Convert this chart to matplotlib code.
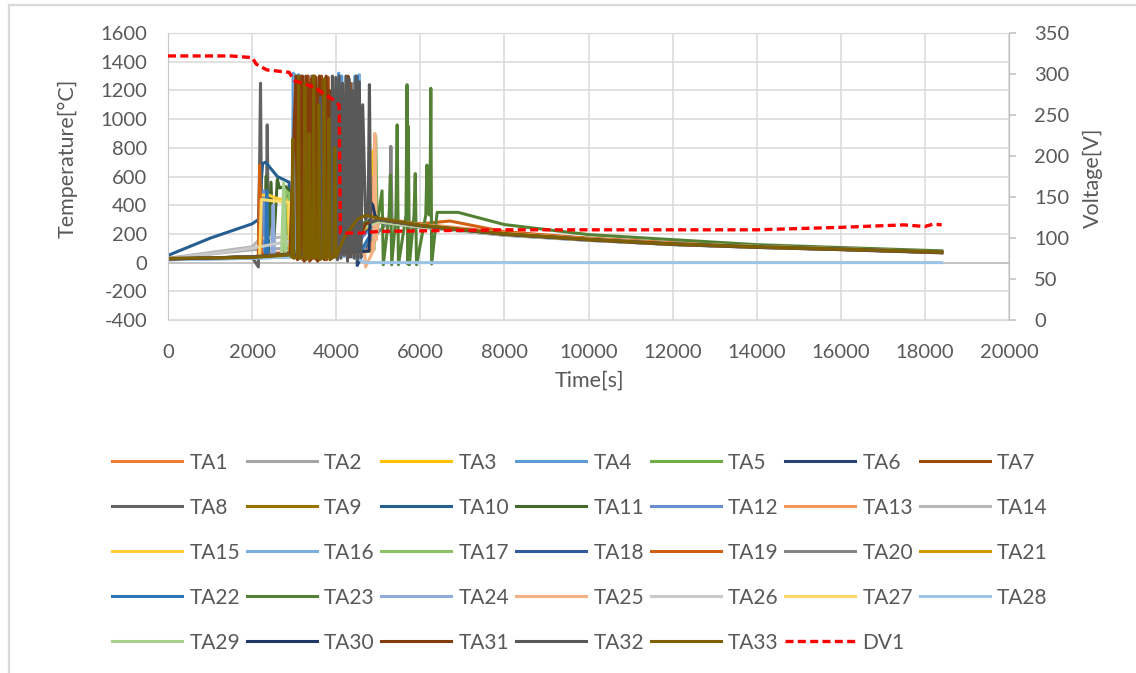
import matplotlib
matplotlib.use("Agg")
import matplotlib.pyplot as plt
from matplotlib.lines import Line2D

plt.rcParams['font.family'] = ['Lato', 'DejaVu Sans']
plt.rcParams['axes.unicode_minus'] = False

# thermocouple readings [s], [degC]
ta1_t = [0, 2000, 2900, 3180, 3200, 3230, 3500, 3520, 3550, 4650, 5000, 6000, 8000, 10000, 12000, 14000, 16000, 18400]
ta1_v = [25, 38, 55, 60, 880, 50, 70, 1050, 60, 90, 305, 262, 202, 162, 132, 112, 96, 74]
ta2_t = [0, 1000, 2000, 2900, 3380, 3400, 3430, 3900, 3930, 3960, 4700, 5000, 6000, 8000, 10000, 12000, 14000, 16000, 18400]
ta2_v = [30, 60, 90, 100, 80, 1300, 70, 60, 1150, 40, 120, 280, 245, 190, 155, 127, 107, 92, 71]
ta3_t = [0, 2000, 2900, 3700, 3730, 3760, 4850, 4880, 4910, 5000, 6000, 8000, 10000, 12000, 14000, 16000, 18400]
ta3_v = [22, 35, 50, 60, 650, 40, 80, 780, 150, 290, 250, 196, 160, 130, 110, 95, 72]
ta4_t = [0, 2000, 2950, 2980, 3010, 3040, 3080, 3110, 3140, 4020, 4060, 4090, 4130, 4160, 4420, 4450, 4490, 4700, 5000, 6000, 8000, 10000, 12000, 14000, 16000, 18400]
ta4_v = [20, 30, 40, 1320, 200, 1300, 900, 1310, 60, 80, 1320, 300, 1300, 60, 80, 1300, 50, 280, 300, 255, 195, 158, 128, 108, 92, 70]
ta5_t = [0, 2000, 2200, 2800, 2850, 2900, 4900, 4940, 4980, 5000, 6000, 8000, 10000, 12000, 14000, 16000, 18400]
ta5_v = [25, 38, 45, 60, 520, 50, 90, 880, 200, 300, 262, 205, 166, 134, 113, 97, 75]
ta6_t = [0, 2000, 2900, 3250, 3280, 3310, 4420, 4460, 4500, 5000, 6000, 8000, 10000, 12000, 14000, 16000, 18400]
ta6_v = [25, 40, 55, 60, 1100, 40, 60, 1250, -20, 295, 255, 198, 160, 130, 110, 94, 72]
ta7_t = [0, 2000, 2150, 2180, 2220, 2900, 3100, 3130, 3170, 3210, 3250, 3290, 3330, 3370, 3410, 3450, 3490, 3530,
         3570, 3610, 3650, 3690, 3730, 3770, 3810, 3850, 4300, 4340, 4380, 4700, 5000, 6000, 8000, 10000, 12000,
         14000, 16000, 18400]
ta7_v = [25, 40, 45, 650, 60, 70, 1290, 30, 1300, 20, 1250, 40, 1300, 10, 1280, 30, 1300, 20,
         1200, 40, 1300, 30, 1280, 20, 1290, 60, 80, 1250, 40, 260, 300, 258, 198, 160, 128, 108, 92, 70]
ta8_t = [0, 2000, 2150, 2200, 2230, 2330, 2360, 2390, 2900, 5000, 6000, 8000, 10000, 12000, 14000, 16000, 18400]
ta8_v = [25, 38, -30, 1250, 60, 50, 960, 50, 60, 290, 250, 195, 158, 128, 108, 93, 71]
ta9_t = [0, 2000, 2900, 3300, 3330, 3360, 3800, 3830, 3860, 5000, 6000, 8000, 10000, 12000, 14000, 16000, 18400]
ta9_v = [25, 40, 60, 70, 1200, 40, 60, 1100, 40, 285, 250, 194, 157, 127, 108, 93, 71]
ta10_t = [0, 500, 1000, 1500, 2000, 2150, 2250, 2320, 2600, 2880, 2920, 3000, 5000, 6000, 8000, 10000, 12000, 14000, 16000, 18400]
ta10_v = [50, 110, 170, 220, 270, 300, 690, 700, 600, 560, 60, 70, 300, 258, 200, 162, 131, 110, 95, 73]
ta11_t = [0, 2000, 2300, 2330, 2380, 2450, 2500, 2600, 2650, 2800, 2880, 2900, 5000, 6000, 8000, 10000, 12000, 14000, 16000, 18400]
ta11_v = [25, 38, 40, 600, 50, 560, 60, 580, 520, 530, 500, 40, 295, 256, 198, 160, 130, 110, 94, 72]
ta12_t = [0, 2000, 2250, 2280, 2320, 2900, 4200, 4230, 4260, 5000, 6000, 8000, 10000, 12000, 14000, 16000, 18400]
ta12_v = [22, 35, 40, 500, 40, 55, 60, 1100, 60, 300, 255, 196, 158, 128, 108, 92, 70]
ta13_t = [0, 2000, 2900, 4860, 4890, 4920, 5000, 6000, 8000, 10000, 12000, 14000, 16000, 18400]
ta13_v = [25, 38, 55, 90, 600, 150, 310, 270, 210, 168, 136, 115, 98, 76]
ta14_t = [0, 1000, 2000, 2200, 2600, 2900, 2950, 5000, 6000, 8000, 10000, 12000, 14000, 16000, 18400]
ta14_v = [30, 70, 110, 170, 175, 180, 40, 290, 250, 195, 158, 128, 108, 93, 71]
ta15_t = [0, 2000, 2150, 2200, 2400, 2600, 2850, 2900, 5000, 6000, 8000, 10000, 12000, 14000, 16000, 18400]
ta15_v = [25, 38, 40, 470, 470, 445, 440, 40, 295, 255, 198, 160, 130, 110, 94, 72]
ta16_t = [0, 2000, 2990, 3020, 3050, 4520, 4550, 4580, 5000, 6000, 8000, 10000, 12000, 14000, 16000, 18400]
ta16_v = [22, 35, 50, 1310, 60, 70, 1310, 60, 290, 250, 192, 156, 126, 106, 91, 70]
ta17_t = [0, 2000, 2750, 2800, 2880, 2920, 5000, 6000, 8000, 10000, 12000, 14000, 16000, 18400]
ta17_v = [25, 38, 45, 500, 480, 45, 290, 252, 196, 158, 128, 108, 93, 71]
ta18_t = [0, 2000, 2900, 3900, 3930, 3960, 5000, 6000, 8000, 10000, 12000, 14000, 16000, 18400]
ta18_v = [25, 38, 55, 60, 1150, 40, 295, 254, 197, 159, 129, 109, 93, 71]
ta19_t = [0, 2000, 2150, 2180, 2220, 2900, 3600, 3630, 3660, 5000, 6000, 6700, 8000, 10000, 12000, 14000, 16000, 18400]
ta19_v = [25, 40, 45, 680, 60, 65, 70, 1200, 50, 300, 270, 290, 215, 170, 138, 116, 99, 76]
ta20_t = [0, 2000, 2900, 4380, 4410, 4440, 5270, 5300, 5330, 6000, 8000, 10000, 12000, 14000, 16000, 18400]
ta20_v = [25, 38, 55, 60, 1250, 50, 290, 810, 280, 252, 196, 158, 128, 108, 93, 71]
ta21_t = [0, 2000, 2900, 3620, 3650, 3680, 5000, 6000, 8000, 10000, 12000, 14000, 16000, 18400]
ta21_v = [25, 38, 55, 60, 1250, 40, 295, 255, 198, 160, 130, 110, 94, 72]
ta22_t = [0, 2000, 2320, 2350, 2380, 2900, 4470, 4500, 4530, 5000, 6000, 8000, 10000, 12000, 14000, 16000, 18400]
ta22_v = [25, 38, 40, 500, 40, 55, 60, 1300, 50, 290, 250, 194, 157, 127, 107, 92, 70]
ta23_t = [0, 2000, 2900, 5000, 5090, 5120, 5260, 5290, 5320, 5420, 5450, 5480, 5660, 5685, 5700, 5715, 5740,
          5850, 5880, 5910, 6130, 6160, 6190, 6230, 6250, 6270, 6400, 6900, 8000, 10000, 12000, 14000, 16000, 18400]
ta23_v = [25, 40, 60, 320, 500, -15, 340, 610, -15, 330, 960, -15, 330, 1240, -10, 950, -15,
          330, 620, -15, 330, 680, 340, 330, 1215, -10, 350, 350, 265, 195, 160, 125, 105, 82]
ta24_t = [0, 2000, 2470, 2500, 2530, 2900, 5000, 6000, 8000, 10000, 12000, 14000, 16000, 18400]
ta24_v = [22, 35, 40, 400, 40, 50, 285, 248, 192, 155, 126, 106, 91, 70]
ta25_t = [0, 2000, 2900, 4680, 4700, 4890, 4920, 4950, 5000, 6000, 8000, 10000, 12000, 14000, 16000, 18400]
ta25_v = [25, 38, 55, 60, -30, 90, 900, 160, 305, 265, 205, 165, 134, 113, 97, 74]
ta26_t = [0, 1000, 2000, 2900, 2950, 5000, 6000, 8000, 10000, 12000, 14000, 16000, 18400]
ta26_v = [28, 60, 100, 150, 40, 285, 248, 193, 156, 127, 107, 92, 70]
ta27_t = [0, 2000, 2180, 2220, 2500, 2880, 2920, 5000, 6000, 8000, 10000, 12000, 14000, 16000, 18400]
ta27_v = [25, 38, 40, 440, 430, 420, 40, 290, 252, 196, 158, 128, 108, 93, 71]
ta28_t = [0, 2000, 2900, 3200, 3230, 3260, 4400, 4700, 18400]
ta28_v = [20, 30, 40, 60, 1250, 50, 40, 0, 0]
ta29_t = [0, 2000, 2700, 2750, 2800, 2900, 5000, 6000, 8000, 10000, 12000, 14000, 16000, 18400]
ta29_v = [25, 38, 45, 560, 50, 50, 290, 250, 195, 158, 128, 108, 93, 71]
ta30_t = [0, 2000, 2900, 4780, 4820, 4870, 4920, 5000, 6000, 8000, 10000, 12000, 14000, 16000, 18400]
ta30_v = [25, 38, 55, 80, 420, 400, 330, 300, 258, 200, 162, 131, 110, 95, 73]
ta31_t = [0, 2000, 2900, 3040, 3080, 3120, 3160, 3200, 3240, 3280, 3320, 3360, 3400, 3440, 3480, 3520, 3560,
          3600, 3640, 3680, 3720, 3760, 3800, 3840, 3880, 3920, 4250, 4280, 4310, 4700, 5000, 6000, 8000, 10000,
          12000, 14000, 16000, 18400]
ta31_v = [25, 40, 60, 1300, 20, 1280, 40, 1300, 10, 1300, 30, 1250, 20, 1300, 40, 1290, 10,
          1300, 30, 1270, 20, 1300, 40, 1200, 30, 60, 70, 1300, 40, 270, 300, 256, 196, 158,
          126, 106, 90, 68]
ta32_t = [0, 2000, 2900, 3600, 3630, 3660, 3880, 3910, 3950, 3990, 4030, 4070, 4110, 4150, 4190, 4230, 4270,
          4310, 4350, 4390, 4430, 4470, 4510, 4550, 4590, 4630, 4700, 4760, 4790, 4820, 5000, 6000, 8000, 10000,
          12000, 14000, 16000, 18400]
ta32_v = [28, 40, 60, 70, 1150, 60, 70, 1300, 40, 1290, 20, 1300, 30, 1250, 50, 1300, 10,
          1280, 40, 1200, 30, 1300, 20, 1260, 40, 1100, 300, 350, 1240, 280, 300, 258, 198, 160,
          129, 109, 93, 71]
ta33_t = [0, 2000, 2900, 2940, 2965, 2990, 3080, 3105, 3130, 3230, 3255, 3280, 3330, 3355, 3380, 3440, 3465,
          3490, 3560, 3585, 3610, 3690, 3715, 3740, 3800, 3825, 3850, 3940, 3965, 3990, 4200, 4500, 4700,
          5000, 6000, 8000, 10000, 12000, 14000, 16000, 18400]
ta33_v = [30, 35, 55, 40, 860, 30, 40, 1300, 30, 40, 1250, 20, 40, 900, 30, 40, 1300,
          30, 40, 1100, 20, 40, 1280, 30, 40, 1000, 20, 40, 800, 40, 180, 300, 330,
          310, 262, 202, 162, 130, 110, 94, 74]

# supply voltage [s], [V]
dv1_t = [0, 1500, 2000, 2100, 2350, 2880, 3000, 3470, 3950, 4070, 4100, 4600, 5000, 8000,
         10000, 14000, 16000, 17000, 17500, 18000, 18200, 18400]
dv1_v = [322, 322, 320, 312, 305, 302, 292, 284, 268, 262, 106, 106, 108, 110,
         110, 110, 113, 115, 116, 114, 117, 116]

series_t = [ta1_t, ta2_t, ta3_t, ta4_t, ta5_t, ta6_t, ta7_t, ta8_t, ta9_t, ta10_t, ta11_t,
            ta12_t, ta13_t, ta14_t, ta15_t, ta16_t, ta17_t, ta18_t, ta19_t, ta20_t, ta21_t, ta22_t,
            ta23_t, ta24_t, ta25_t, ta26_t, ta27_t, ta28_t, ta29_t, ta30_t, ta31_t, ta32_t, ta33_t]
series_v = [ta1_v, ta2_v, ta3_v, ta4_v, ta5_v, ta6_v, ta7_v, ta8_v, ta9_v, ta10_v, ta11_v,
            ta12_v, ta13_v, ta14_v, ta15_v, ta16_v, ta17_v, ta18_v, ta19_v, ta20_v, ta21_v, ta22_v,
            ta23_v, ta24_v, ta25_v, ta26_v, ta27_v, ta28_v, ta29_v, ta30_v, ta31_v, ta32_v, ta33_v]
names = ['TA%d' % (i + 1) for i in range(33)]
colors = ['#ED7D31', '#A5A5A5', '#FFC000', '#5B9BD5', '#70AD47', '#264478', '#9E480E',
          '#636363', '#997300', '#255E91', '#43682B', '#698ED0', '#F1975A', '#B7B7B7',
          '#FFCD33', '#7CAFDD', '#8CC168', '#335AA1', '#D26012', '#848484', '#CC9A00',
          '#2E75B6', '#548235', '#8FAADC', '#F4B183', '#C9C9C9', '#FFD966', '#9DC3E6',
          '#A9D18E', '#203864', '#843C0C', '#595959', '#7F6000']

W, H = 1136, 673
fig = plt.figure(figsize=(W / 100, H / 100), dpi=100)
ax = fig.add_axes([168 / W, 1 - 320 / H, (1009 - 168) / W, (320 - 33) / H])
ax2 = ax.twinx()

grid_c = '#D9D9D9'
text_c = '#595959'

handles = []
for t, v, c, n in zip(series_t, series_v, colors, names):
    ln, = ax.plot(t, v, color=c, lw=2.2, label=n, solid_joinstyle='round')
    handles.append(ln)

dv, = ax2.plot(dv1_t, dv1_v, color='#FF0000', lw=2.4, linestyle=(0, (2.4, 1.3)), label='DV1')
handles.append(dv)

ax.set_xlim(0, 20000)
ax.set_ylim(-400, 1600)
ax.set_xticks(range(0, 20001, 2000))
ax.set_yticks(range(-400, 1601, 200))
ax2.set_ylim(0, 350)
ax2.set_yticks(range(0, 351, 50))

ax.grid(True, color=grid_c, lw=1.1)
ax.set_axisbelow(True)
ax.axhline(0, color='#BFBFBF', lw=1.2, zorder=1.5)
for s in ['top', 'bottom', 'right']:
    ax.spines[s].set_color(grid_c)
ax.spines['left'].set_color('#C8C8C8')
for s in ['top', 'bottom', 'left']:
    ax2.spines[s].set_visible(False)
ax2.spines['right'].set_color('#BFBFBF')

ax.tick_params(axis='y', length=0, labelsize=14.5, labelcolor=text_c, pad=15)
ax.tick_params(axis='x', length=0, labelsize=14.5, labelcolor=text_c, pad=17)
ax2.tick_params(axis='y', length=5, width=1.1, color='#BFBFBF', labelsize=14.5, labelcolor=text_c, pad=13)

fig.text(68 / W, 1 - 158 / H, 'Temperature[°C]', rotation=90, ha='center', va='center', fontsize=15.5, color=text_c)
fig.text(1093 / W, 1 - 178 / H, 'Voltage[V]', rotation=90, ha='center', va='center', fontsize=15.5, color=text_c)
fig.text(589 / W, 1 - 381 / H, 'Time[s]', ha='center', va='center', fontsize=15.5, color=text_c)

# legend reads row by row: TA1..TA7 on the first line
order = [r * 7 + c for c in range(7) for r in range(5) if r * 7 + c < len(handles)]
leg = fig.legend([handles[i] for i in order], [handles[i].get_label() for i in order],
                 loc='upper center', bbox_to_anchor=(580 / W, 1 - 434 / H), ncol=7, frameon=False,
                 fontsize=15, handlelength=3.36, handletextpad=0.35, columnspacing=0.32, labelspacing=1.2)
for txt in leg.get_texts():
    txt.set_color(text_c)

# chart area border
fig.add_artist(Line2D([9 / W, 9 / W], [0, 1 - 5 / H], color=grid_c, lw=1.6))
fig.add_artist(Line2D([9 / W, 1], [1 - 5 / H, 1 - 5 / H], color=grid_c, lw=1.6))

fig.savefig('out.png', dpi=100)
